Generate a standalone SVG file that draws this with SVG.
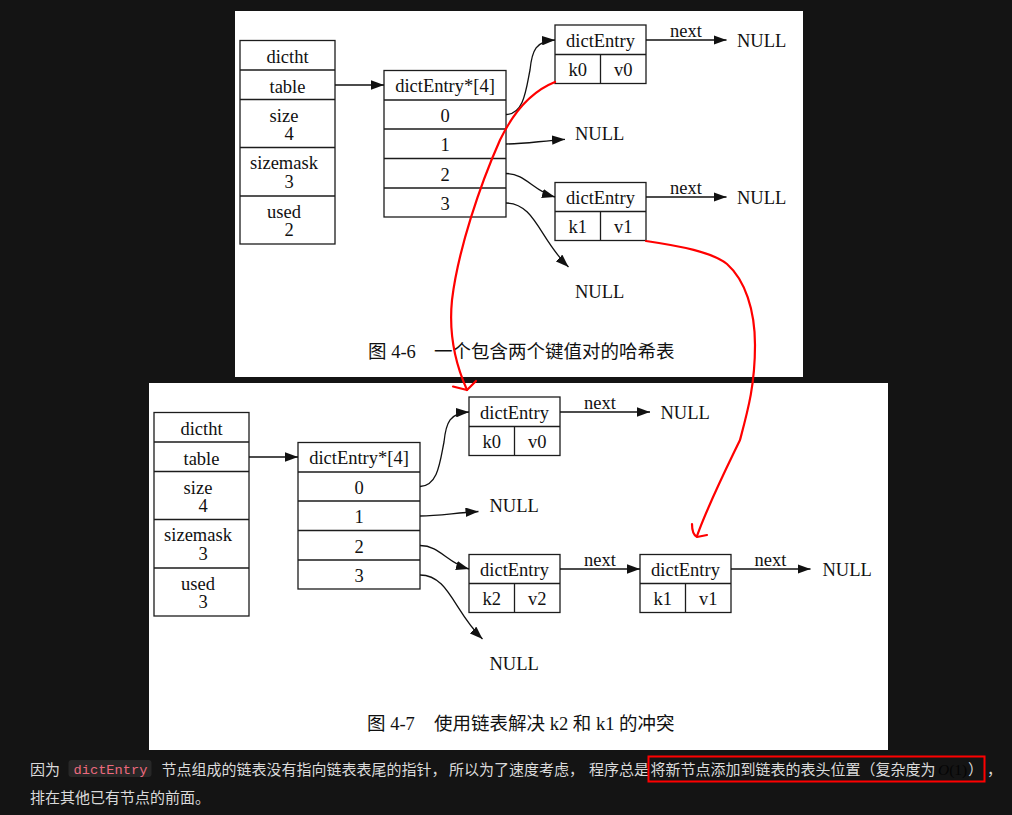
<svg xmlns="http://www.w3.org/2000/svg" width="1012" height="815" viewBox="0 0 1012 815">
  <style>
    .panel { fill: #ffffff; }
    .box { fill: none; stroke: #1c1c1c; stroke-width: 1.3; }
    .t { font-family: "Liberation Serif", "Noto Sans CJK SC", serif; font-size: 18.5px; fill: #111; text-anchor: middle; }
    .ts { font-family: "Liberation Serif", "Noto Sans CJK SC", serif; font-size: 18.5px; fill: #111; }
    .edge { fill: none; stroke: #111; stroke-width: 1.3; marker-end: url(#ah); }
    .red { fill: none; stroke: #ff0000; stroke-width: 2.2; stroke-linecap: round; stroke-linejoin: round; }
    .body { font-family: "Noto Sans CJK SC", sans-serif; font-size: 15px; fill: #dadada; }
  </style>
  <defs>
    <marker id="ah" viewBox="0 0 13 9.4" refX="13" refY="4.7" markerWidth="13" markerHeight="9.4" markerUnits="userSpaceOnUse" orient="auto">
      <path d="M0,0 L13,4.7 L0,9.4 z" fill="#111"/>
    </marker>
    <!-- dict hash table header: dictht / table / size / sizemask / used -->
    <g id="dictht-frame">
      <rect class="box" x="240" y="40.5" width="95" height="203.5"/>
      <path class="box" d="M240,70 H335 M240,99.5 H335 M240,147.5 H335 M240,196 H335"/>
      <text class="t" x="287.5" y="62.5">dictht</text>
      <text class="t" x="287.5" y="92.5">table</text>
      <text class="t" x="284" y="122">size</text>
      <text class="t" x="284" y="169">sizemask</text>
      <text class="t" x="284" y="217.5">used</text>
    </g>
    <!-- bucket array with four slots -->
    <g id="bucket-array">
      <rect class="box" x="384" y="70.5" width="122" height="146.5"/>
      <path class="box" d="M384,100 H506 M384,129 H506 M384,158.5 H506 M384,188 H506"/>
      <text class="t" x="445" y="92">dictEntry*[4]</text>
      <text class="t" x="445" y="121.5">0</text>
      <text class="t" x="445" y="151">1</text>
      <text class="t" x="445" y="180.5">2</text>
      <text class="t" x="445" y="209.5">3</text>
    </g>
  </defs>

  <rect width="1012" height="815" fill="#141414"/>

  <!-- ============ figure 4-6 ============ -->
  <rect class="panel" x="235" y="11" width="568" height="366"/>
  <g id="fig46">
    <g id="fig46-dictht">
      <use href="#dictht-frame"/>
      <text class="t" x="289" y="139.5">4</text>
      <text class="t" x="289" y="187.5">3</text>
      <text class="t" x="289" y="236">2</text>
    </g>
    <g id="fig46-table"><use href="#bucket-array"/></g>
    <g id="fig46-entry-k0">
      <rect class="box" x="555" y="25" width="91" height="58.5"/>
      <path class="box" d="M555,54.5 H646 M600.5,54.5 V83.5"/>
      <text class="t" x="600.5" y="46.5">dictEntry</text>
      <text class="t" x="577.7" y="76">k0</text>
      <text class="t" x="623.3" y="76">v0</text>
    </g>
    <g id="fig46-entry-k1">
      <rect class="box" x="555" y="182.5" width="91" height="58"/>
      <path class="box" d="M555,211.5 H646 M600.5,211.5 V240.5"/>
      <text class="t" x="600.5" y="203.5">dictEntry</text>
      <text class="t" x="577.7" y="233">k1</text>
      <text class="t" x="623.3" y="233">v1</text>
    </g>
    <g id="fig46-null-k0"><text class="ts" x="737" y="46.5">NULL</text></g>
    <g id="fig46-null-k1"><text class="ts" x="737" y="204">NULL</text></g>
    <g id="fig46-null-1"><text class="ts" x="575" y="140">NULL</text></g>
    <g id="fig46-null-3"><text class="ts" x="575" y="298">NULL</text></g>
    <g id="fig46-edges">
      <path class="edge" d="M335,85 H384"/>
      <path class="edge" d="M506,114.5 C524,114 526,90 530,70 C532,50 536,41 555,40"/>
      <path class="edge" d="M506,144 C525,144 540,141 565,139.3"/>
      <path class="edge" d="M506,173.5 C526,173.5 533,191 555,197"/>
      <path class="edge" d="M506,203 C535,203 540,240 568.5,267"/>
      <path class="edge" d="M646,40 H726.5"/>
      <path class="edge" d="M646,197 H726.5"/>
      <text class="t" x="686" y="37">next</text>
      <text class="t" x="686" y="194">next</text>
    </g>
    <text class="ts" x="368" y="358">图 4-6<tspan x="434">一个包含两个键值对的哈希表</tspan></text>
  </g>

  <!-- ============ figure 4-7 ============ -->
  <rect class="panel" x="149" y="383" width="739" height="367"/>
  <g id="fig47">
    <g id="fig47-graph" transform="translate(-86,372)">
      <g id="fig47-dictht">
        <use href="#dictht-frame"/>
        <text class="t" x="289" y="139.5">4</text>
        <text class="t" x="289" y="187.5">3</text>
        <text class="t" x="289" y="236">3</text>
      </g>
      <g id="fig47-table"><use href="#bucket-array"/></g>
      <g id="fig47-entry-k0">
        <rect class="box" x="555" y="25" width="91" height="58.5"/>
        <path class="box" d="M555,54.5 H646 M600.5,54.5 V83.5"/>
        <text class="t" x="600.5" y="46.5">dictEntry</text>
        <text class="t" x="577.7" y="76">k0</text>
        <text class="t" x="623.3" y="76">v0</text>
      </g>
      <g id="fig47-entry-k2">
        <rect class="box" x="555" y="182.5" width="91" height="58"/>
        <path class="box" d="M555,211.5 H646 M600.5,211.5 V240.5"/>
        <text class="t" x="600.5" y="203.5">dictEntry</text>
        <text class="t" x="577.7" y="233">k2</text>
        <text class="t" x="623.3" y="233">v2</text>
      </g>
      <g id="fig47-entry-k1">
        <rect class="box" x="726" y="182.5" width="91" height="58"/>
        <path class="box" d="M726,211.5 H817 M771.5,211.5 V240.5"/>
        <text class="t" x="771.5" y="203.5">dictEntry</text>
        <text class="t" x="748.7" y="233">k1</text>
        <text class="t" x="794.3" y="233">v1</text>
      </g>
      <g id="fig47-null-k0"><text class="ts" x="746.5" y="46.5">NULL</text></g>
      <g id="fig47-null-k1"><text class="ts" x="908.5" y="204">NULL</text></g>
      <g id="fig47-null-1"><text class="ts" x="575.5" y="140">NULL</text></g>
      <g id="fig47-null-3"><text class="ts" x="575.5" y="298">NULL</text></g>
      <g id="fig47-edges">
        <path class="edge" d="M335,85 H384"/>
        <path class="edge" d="M506,114.5 C524,114 526,90 530,70 C532,50 536,41 555,40"/>
        <path class="edge" d="M506,144 C525,144 540,141 564.5,139.5"/>
        <path class="edge" d="M506,173.5 C526,173.5 533,191 555,197"/>
        <path class="edge" d="M506,203 C535,203 540,240 568.5,267"/>
        <path class="edge" d="M646,40 H736"/>
        <path class="edge" d="M646,197 H726"/>
        <path class="edge" d="M817,197 H896.5"/>
        <text class="t" x="686" y="37">next</text>
        <text class="t" x="686" y="194">next</text>
        <text class="t" x="856.5" y="194">next</text>
      </g>
    </g>
    <text class="ts" x="367" y="730">图 4-7<tspan x="434">使用链表解决 k2 和 k1 的冲突</tspan></text>
  </g>

  <!-- hand-drawn red annotation: old k1 entry moves behind the new k2 entry -->
  <g id="annotation-arrows">
    <path class="red" d="M555,82 C530,92 512,115 500,140 C480,185 458,250 452,300 C448,340 458,370 467,390"/>
    <path class="red" d="M453,386.5 L467,390 L476,381"/>
    <path class="red" d="M646,241 C680,246 712,252 727,264 C745,280 755,310 755,345 C755,385 748,410 740,440 C728,465 708,505 697,536"/>
    <path class="red" d="M692,524 C692,530 693,535 697,537 L707,535"/>
  </g>

  <!-- explanatory paragraph -->
  <g id="paragraph">
    <text class="body" x="30" y="775">因为</text>
    <rect x="68.5" y="760" width="83" height="17" rx="3" fill="#272727"/>
    <text x="73.5" y="773.5" font-family="Liberation Mono, monospace" font-size="13.7px" fill="#ec6a7e">dictEntry</text>
    <text class="body" x="161.5" y="775">节点组成的链表没有指向链表表尾的指针，</text>
    <text class="body" x="449" y="775">所以为了速度考虑，</text>
    <text class="body" x="589" y="775">程序总是</text>
    <text class="body" x="650.5" y="775">将新节点添加到链表的表头位置（复杂度为</text>
    <text x="938" y="775" font-family="Liberation Serif, serif" font-size="15.5px" fill="#050505"><tspan font-style="italic">O</tspan>(1)</text>
    <text class="body" x="968" y="775">）</text>
    <text class="body" x="987" y="775">，</text>
    <text class="body" x="30" y="803">排在其他已有节点的前面。</text>
    <rect x="648.5" y="756.5" width="336" height="25" fill="none" stroke="#ff0000" stroke-width="2"/>
  </g>
</svg>
